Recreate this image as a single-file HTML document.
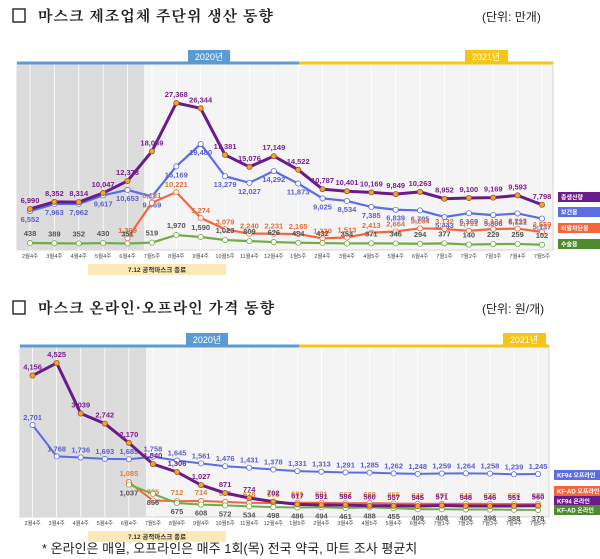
<!DOCTYPE html>
<html><head><meta charset="utf-8">
<style>
html,body{margin:0;padding:0;background:#fff;}
svg{display:block;font-family:"Liberation Sans","Noto Sans CJK KR",sans-serif;}
</style></head>
<body>
<svg id="s" width="600" height="559" viewBox="0 0 600 559" xmlns="http://www.w3.org/2000/svg">
<rect width="600" height="559" fill="#fff"/>
<!-- titles -->
<rect x="13" y="9" width="12" height="13" fill="none" stroke="#111" stroke-width="1.3"/>
<text x="38" y="21" font-size="15" font-weight="bold" fill="#222" font-family="'Noto Serif CJK SC','Noto Sans CJK KR',serif" letter-spacing="1">마스크 제조업체 주단위 생산 동향</text>
<text x="482" y="21" font-size="12" fill="#222">(단위: 만개)</text>
<rect x="13" y="301" width="12" height="13" fill="none" stroke="#111" stroke-width="1.3"/>
<text x="38" y="313" font-size="15" font-weight="bold" fill="#222" font-family="'Noto Serif CJK SC','Noto Sans CJK KR',serif" letter-spacing="1">마스크 온라인·오프라인 가격 동향</text>
<text x="482" y="313" font-size="12" fill="#222">(단위: 원/개)</text>
<g id="g1"></g>
<g id="g2"></g>
<text x="42" y="553" font-size="13" fill="#222">* 온라인은 매일, 오프라인은 매주 1회(목) 전국 약국, 마트 조사 평균치</text>
</svg>
<script>
var NS="http://www.w3.org/2000/svg";
function el(p,t,a,txt){var e=document.createElementNS(NS,t);for(var k in a)e.setAttribute(k,a[k]);if(txt!==undefined)e.textContent=txt;p.appendChild(e);return e;}
function fmt(v){return v>=1000?String(v).replace(/\B(?=(\d{3})+$)/g,","):String(v);}
var labs=["2월4주","3월4주","4월4주","5월4주","6월4주","7월5주","8월4주","9월4주","10월5주","11월4주","12월4주","1월5주","2월4주","3월4주","4월5주","5월4주","6월4주","7월1주","7월2주","7월3주","7월4주","7월5주"];
function chart(g,o){
  el(g,"rect",{x:o.L,y:o.T,width:o.R-o.L,height:o.B-o.T,fill:"#f4f4f4",stroke:"#ccc","stroke-width":0.8});
  el(g,"rect",{x:o.L,y:o.T,width:o.G-o.L,height:o.B-o.T,fill:"#dcdcdc"});
  for(var i=0;i<22;i++){var x=o.x0+o.dx*i;el(g,"line",{x1:x,y1:o.T,x2:x,y2:o.B,stroke:"#fff","stroke-width":0.8});}
  el(g,"line",{x1:o.L,y1:o.T,x2:o.M,y2:o.T,stroke:"#5b9bd5","stroke-width":3});
  el(g,"line",{x1:o.M,y1:o.T,x2:o.R,y2:o.T,stroke:"#f5c518","stroke-width":3});
  el(g,"rect",{x:o.y1x,y:o.T-13,width:42,height:13,fill:"#5b9bd5"});
  el(g,"text",{x:o.y1x+21,y:o.T-3,"font-size":9,fill:"#fff","text-anchor":"middle"},"2020년");
  el(g,"rect",{x:o.y2x,y:o.T-13,width:43,height:13,fill:"#f5c518"});
  el(g,"text",{x:o.y2x+21,y:o.T-3,"font-size":9,fill:"#fff","text-anchor":"middle"},"2021년");
  for(var i=0;i<22;i++){el(g,"text",{x:o.x0+o.dx*i,y:o.B+8,"font-size":5.5,fill:"#444","text-anchor":"middle"},labs[i]);}
  el(g,"rect",{x:88,y:o.B+14,width:138,height:11,fill:"#fbe9b7"});
  el(g,"text",{x:157,y:o.B+22,"font-size":6.5,"font-weight":"bold",fill:"#333","text-anchor":"middle"},"7.12 공적마스크 종료");
  o.series.forEach(function(s){
    var pts=[];s.d.forEach(function(v,j){if(v==null)return;pts.push([o.x0+o.dx*j,o.Y(v),v]);});
    el(g,"polyline",{points:pts.map(function(p){return p[0]+","+p[1]}).join(" "),fill:"none",stroke:s.c,"stroke-width":s.w});
    pts.forEach(function(p){
      el(g,"circle",{cx:p[0],cy:p[1],r:2.6,fill:s.mf,stroke:s.ms,"stroke-width":0.8});
      el(g,"text",{x:p[0],y:p[1]+s.off,"font-size":7.5,"font-weight":"bold",fill:s.tc,"text-anchor":"middle"},fmt(p[2]));
    });
  });
  o.leg.forEach(function(l){
    el(g,"rect",{x:o.R+5,y:l[0],width:600-o.R-5,height:10,fill:l[1]});
    el(g,"text",{x:o.R+8,y:l[0]+7.5,"font-size":6,"font-weight":"bold",fill:"#fff"},l[2]);
  });
}
var g1=document.getElementById("g1");
chart(g1,{L:17,R:553,T:63,B:250,G:144,M:299,y1x:188,y2x:465,x0:30,dx:24.38,
 Y:function(v){return 245.3-0.0052*v;},
 series:[
  {c:"#5b6ee1",w:2.2,mf:"#fff",ms:"#5b6ee1",tc:"#5b5fd0",off:11,d:[6552,7963,7962,9617,10653,9369,15169,19480,13279,12027,14292,11873,9025,8534,7385,6839,6705,5443,6169,5806,6121,5137]},
  {c:"#f4663b",w:2.2,mf:"#fff",ms:"#f4663b",tc:"#e0703a",off:-5,d:[null,null,null,null,1369,8181,10221,5274,3079,2240,2231,2165,1330,1513,2413,2664,3264,3132,2791,3134,3213,2559]},
  {c:"#70ad47",w:2.2,mf:"#fff",ms:"#70ad47",tc:"#555",off:-7,d:[438,389,352,430,351,519,1970,1590,1023,809,626,484,432,354,371,346,294,377,140,229,259,102]},
  {c:"#6a1b8a",w:3,mf:"#f5a623",ms:"#a0522d",tc:"#7b1e8e",off:-6,d:[6990,8352,8314,10047,12373,18069,27368,26344,17381,15076,17149,14522,10787,10401,10169,9849,10263,8952,9100,9169,9593,7798]}
 ],
 leg:[[192,"#6a1b8a","총생산량"],[207,"#5b6ee1","보건용"],[223,"#f4663b","비말차단용"],[239,"#4f8a2f","수술용"]]
});
var g2=document.getElementById("g2");
var an=[[0,517],[378,510],[675,503],[1245,474],[2701,425],[4525,363],[6000,320]];
function Y2(v){for(var i=1;i<an.length;i++){if(v<=an[i][0]){var a=an[i-1],b=an[i];return a[1]+(v-a[0])/(b[0]-a[0])*(b[1]-a[1]);}}return 363;}
chart(g2,{L:20,R:549,T:346,B:517,G:146,M:299,y1x:186,y2x:503,x0:32.6,dx:24.07,Y:Y2,
 series:[
  {c:"#5b6ee1",w:2,mf:"#fff",ms:"#5b6ee1",tc:"#5b5fd0",off:-5,d:[2701,1768,1736,1693,1685,1758,1645,1561,1476,1431,1378,1331,1313,1291,1285,1262,1248,1259,1264,1258,1239,1245]},
  {c:"#f4663b",w:2,mf:"#fff",ms:"#f4663b",tc:"#e0803a",off:-6,d:[null,null,null,null,1085,725,712,714,696,678,675,681,681,667,669,655,642,637,642,638,628,628]},
  {c:"#70ad47",w:2,mf:"#fff",ms:"#70ad47",tc:"#555",off:11,d:[null,null,null,null,1037,856,675,608,572,534,498,486,494,461,488,455,409,408,400,398,388,378]},
  {c:"#6a1b8a",w:3,mf:"#f5a623",ms:"#a0522d",tc:"#7b1e8e",off:-6,d:[4156,4525,3039,2742,2170,1540,1306,1027,871,774,702,617,591,586,560,557,545,571,548,546,551,560]}
 ],
 leg:[[470,"#5b6ee1","KF94 오프라인"],[486,"#f4663b","KF-AD 오프라인"],[496,"#6a1b8a","KF94 온라인"],[505,"#4f8a2f","KF-AD 온라인"]]
});
</script>
</body></html>
